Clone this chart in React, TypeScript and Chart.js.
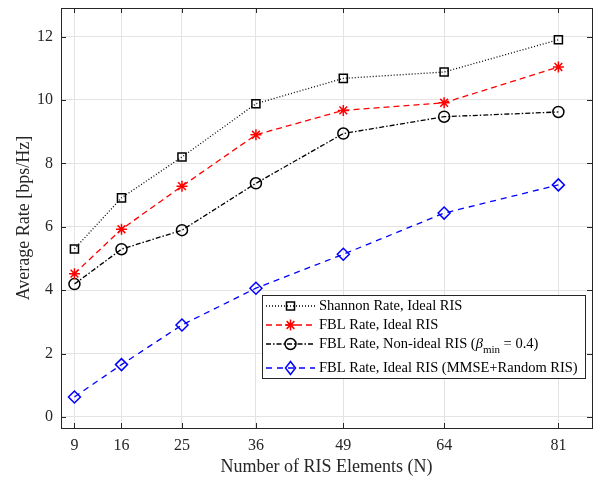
import React, { useEffect, useRef } from "react";
import { Chart, registerables } from "chart.js";

Chart.register(...registerables);

const elements = [9, 16, 25, 36, 49, 64, 81];
const shannonIdeal = [5.3, 6.91, 8.2, 9.88, 10.68, 10.88, 11.9];
const fblIdeal = [4.52, 5.92, 7.28, 8.9, 9.67, 9.91, 11.04];
const fblNonIdeal = [4.19, 5.29, 5.89, 7.37, 8.94, 9.47, 9.62];
const fblRandom = [0.63, 1.65, 2.9, 4.06, 5.13, 6.43, 7.32];
const yTicks = [0, 2, 4, 6, 8, 10, 12];

const FONT = "'Liberation Serif', 'Times New Roman', serif";

const legendItems = [
  { label: "Shannon Rate, Ideal RIS", color: "#000000", dash: [1, 2], marker: "square" },
  { label: "FBL Rate, Ideal RIS", color: "#ff0000", dash: [6, 4], marker: "star" },
  { label: "FBL Rate, Non-ideal RIS (", color: "#000000", dash: [5, 2, 1.5, 2], marker: "circle", beta: true },
  { label: "FBL Rate, Ideal RIS (MMSE+Random RIS)", color: "#0000ff", dash: [6, 5], marker: "diamond" },
];

function drawMarker(ctx: CanvasRenderingContext2D, kind: string, x: number, y: number, color: string) {
  ctx.save();
  ctx.setLineDash([]);
  ctx.strokeStyle = color;
  ctx.lineWidth = 1.5;
  ctx.beginPath();
  if (kind === "square") {
    ctx.rect(x - 4, y - 4, 8, 8);
  } else if (kind === "circle") {
    ctx.arc(x, y, 5.5, 0, Math.PI * 2);
  } else if (kind === "diamond") {
    ctx.moveTo(x, y - 6.5);
    ctx.lineTo(x + 5, y);
    ctx.lineTo(x, y + 6.5);
    ctx.lineTo(x - 5, y);
    ctx.closePath();
  } else if (kind === "star") {
    const r = 5.5;
    for (let i = 0; i < 4; i++) {
      const a = (i * Math.PI) / 4;
      ctx.moveTo(x - r * Math.cos(a), y - r * Math.sin(a));
      ctx.lineTo(x + r * Math.cos(a), y + r * Math.sin(a));
    }
  }
  ctx.stroke();
  ctx.restore();
}

const framePlugin = {
  id: "frame",
  afterDatasetsDraw(chart: any) {
    const { ctx, chartArea: a, scales } = chart;
    ctx.save();
    ctx.strokeStyle = "#262626";
    ctx.lineWidth = 1;
    ctx.setLineDash([]);
    ctx.beginPath();
    elements.forEach((v) => {
      const x = Math.round(scales.x.getPixelForValue(v)) + 0.5;
      ctx.moveTo(x, a.bottom);
      ctx.lineTo(x, a.bottom - 5);
      ctx.moveTo(x, a.top);
      ctx.lineTo(x, a.top + 5);
    });
    yTicks.forEach((v) => {
      const y = Math.round(scales.y.getPixelForValue(v)) + 0.5;
      ctx.moveTo(a.left, y);
      ctx.lineTo(a.left + 5, y);
      ctx.moveTo(a.right, y);
      ctx.lineTo(a.right - 5, y);
    });
    ctx.stroke();
    ctx.strokeRect(Math.round(a.left) + 0.5, Math.round(a.top) + 0.5, Math.round(a.right - a.left), Math.round(a.bottom - a.top));

    // legend
    const bx = 262, by = 295, bw = 323, bh = 83;
    ctx.fillStyle = "#ffffff";
    ctx.fillRect(bx, by, bw, bh);
    ctx.strokeStyle = "#262626";
    ctx.strokeRect(bx + 0.5, by + 0.5, bw, bh);
    const rows = [306, 325, 344, 368];
    legendItems.forEach((it, i) => {
      const y = rows[i];
      ctx.save();
      ctx.strokeStyle = it.color;
      ctx.lineWidth = 1.3;
      ctx.setLineDash(it.dash);
      ctx.beginPath();
      ctx.moveTo(266, y);
      ctx.lineTo(315, y);
      ctx.stroke();
      ctx.restore();
      drawMarker(ctx, it.marker, 290.5, y, it.color);
      ctx.fillStyle = "#000000";
      ctx.font = `14.5px ${FONT}`;
      ctx.textBaseline = "middle";
      ctx.textAlign = "left";
      ctx.fillText(it.label, 319, y);
      if (it.beta) {
        let x = 319 + ctx.measureText(it.label).width;
        ctx.font = `italic 14.5px ${FONT}`;
        ctx.fillText("\u03b2", x, y);
        x += ctx.measureText("\u03b2").width;
        ctx.font = `11px ${FONT}`;
        ctx.fillText("min", x, y + 6);
        x += ctx.measureText("min").width;
        ctx.font = `14.5px ${FONT}`;
        ctx.fillText(" = 0.4)", x, y);
      }
    });
    ctx.restore();
  },
};

export default function App() {
  const ref = useRef<HTMLCanvasElement | null>(null);
  useEffect(() => {
    if (!ref.current) return;
    const pts = (arr: number[]) => elements.map((x, i) => ({ x, y: arr[i] }));
    const chart = new Chart(ref.current, {
      type: "line",
      data: {
        datasets: [
          {
            label: "Shannon Rate, Ideal RIS",
            data: pts(shannonIdeal),
            borderColor: "#000000",
            borderWidth: 1.3,
            borderDash: [1, 2],
            pointStyle: "rect",
            pointRadius: 5.7,
            pointBorderWidth: 1.5,
            pointBorderColor: "#000000",
            pointBackgroundColor: "rgba(0,0,0,0)",
          },
          {
            label: "FBL Rate, Ideal RIS",
            data: pts(fblIdeal),
            borderColor: "#ff0000",
            borderWidth: 1.3,
            borderDash: [6, 4],
            pointStyle: "star",
            pointRadius: 5.5,
            pointBorderWidth: 1.5,
            pointBorderColor: "#ff0000",
            pointBackgroundColor: "rgba(0,0,0,0)",
          },
          {
            label: "FBL Rate, Non-ideal RIS",
            data: pts(fblNonIdeal),
            borderColor: "#000000",
            borderWidth: 1.3,
            borderDash: [5, 2, 1.5, 2],
            pointStyle: "circle",
            pointRadius: 5.5,
            pointBorderWidth: 1.5,
            pointBorderColor: "#000000",
            pointBackgroundColor: "rgba(0,0,0,0)",
          },
          {
            label: "FBL Rate, Ideal RIS (MMSE+Random RIS)",
            data: pts(fblRandom),
            borderColor: "#0000ff",
            borderWidth: 1.3,
            borderDash: [6, 5],
            pointStyle: "rectRot",
            pointRadius: 6,
            pointBorderWidth: 1.5,
            pointBorderColor: "#0000ff",
            pointBackgroundColor: "rgba(0,0,0,0)",
          },
        ],
      },
      options: {
        animation: false,
        responsive: false,
        maintainAspectRatio: false,
        layout: { padding: { top: 8, right: 8, left: 0, bottom: 0 } },
        plugins: { legend: { display: false }, tooltip: { enabled: false } },
        elements: { line: { tension: 0 } },
        scales: {
          x: {
            type: "linear",
            min: 7,
            max: 86,
            afterBuildTicks: (s: any) => {
              s.ticks = elements.map((v) => ({ value: v }));
            },
            afterFit: (s: any) => {
              s.height = 53;
              s.paddingLeft = 0;
              s.paddingRight = 0;
            },
            grid: { color: "#e3e3e3", drawTicks: false, lineWidth: 1 },
            border: { display: false },
            ticks: { color: "#262626", font: { family: FONT, size: 16 }, padding: 8, maxRotation: 0, autoSkip: false },
            title: {
              display: true,
              text: "Number of RIS Elements (N)",
              color: "#262626",
              font: { family: FONT, size: 18 },
              padding: { top: 0, bottom: 3 },
            },
          },
          y: {
            type: "linear",
            min: -0.35,
            max: 12.9,
            afterBuildTicks: (s: any) => {
              s.ticks = yTicks.map((v) => ({ value: v }));
            },
            afterFit: (s: any) => {
              s.width = 61;
              s.paddingTop = 0;
              s.paddingBottom = 0;
            },
            grid: { color: "#e3e3e3", drawTicks: false, lineWidth: 1 },
            border: { display: false },
            ticks: { color: "#262626", font: { family: FONT, size: 16 }, padding: 8 },
            title: {
              display: true,
              text: "Average Rate [bps/Hz]",
              color: "#262626",
              font: { family: FONT, size: 18 },
              padding: { top: 13, bottom: 0 },
            },
          },
        },
      },
      plugins: [framePlugin],
    });
    return () => chart.destroy();
  }, []);
  return (
    <div style={{ position: "fixed", left: 0, top: 0, width: 600, height: 481, background: "#fff" }}>
      <canvas ref={ref} width={600} height={481} style={{ width: 600, height: 481 }} />
    </div>
  );
}
